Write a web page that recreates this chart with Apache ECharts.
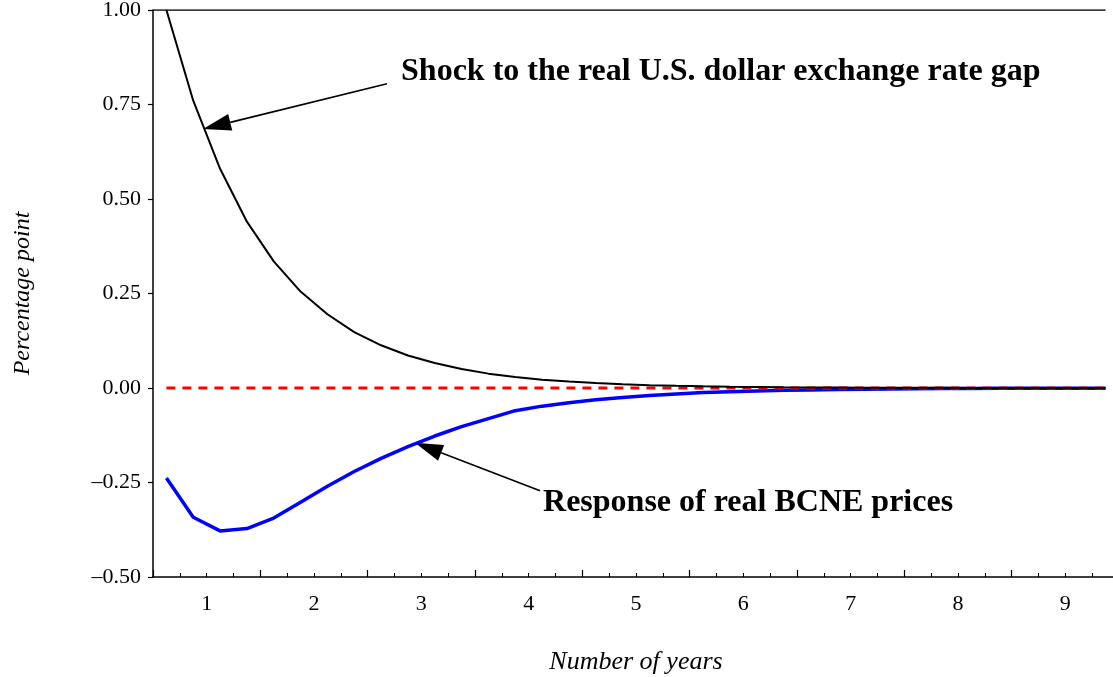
<!DOCTYPE html>
<html>
<head>
<meta charset="utf-8">
<script src="https://cdn.jsdelivr.net/npm/echarts@6/dist/echarts.min.js"></script>
<style>
  html, body { margin: 0; padding: 0; background: #fff; }
  #chart { width: 1113px; height: 677px; }
</style>
</head>
<body>
<div id="chart"></div>
<script>
// Quarterly horizon, in years
const years = [0.625, 0.875, 1.125, 1.375, 1.625, 1.875, 2.125, 2.375, 2.625, 2.875,
               3.125, 3.375, 3.625, 3.875, 4.125, 4.375, 4.625, 4.875, 5.125, 5.375,
               5.625, 5.875, 6.125, 6.375, 6.625, 6.875, 7.125, 7.375, 7.625, 7.875,
               8.125, 8.375, 8.625, 8.875, 9.125, 9.375];

// Shock to the real U.S. dollar exchange rate gap (percentage points)
const shockGap = [1.00, 0.76, 0.58, 0.44, 0.335, 0.255, 0.195, 0.148, 0.113, 0.086,
                  0.066, 0.050, 0.038, 0.029, 0.022, 0.017, 0.013, 0.010, 0.0075, 0.0057,
                  0.0043, 0.0033, 0.0025, 0.0019, 0.0015, 0.0011, 0.0008, 0.0006, 0.0005, 0.0004,
                  0.0003, 0.0002, 0.0002, 0.0001, 0.0001, 0.0001];

// Response of real BCNE prices (percentage points)
const bcneResponse = [-0.238, -0.342, -0.378, -0.372, -0.344, -0.302, -0.260, -0.221, -0.186, -0.155,
                      -0.127, -0.102, -0.081, -0.060, -0.048, -0.039, -0.031, -0.025, -0.020, -0.016,
                      -0.012, -0.010, -0.008, -0.006, -0.005, -0.004, -0.003, -0.0024, -0.0019, -0.0015,
                      -0.0012, -0.0009, -0.0007, -0.0006, -0.0005, -0.0004];

// Zero reference line end points
const zeroLine = [[0.625, 0], [9.375, 0]];
// Upper frame edge
const frameTop = [[0.5, 1.0], [9.375, 1.0]];

// Annotation texts: [x, y, text]
const notes = [
  [2.811, 0.836, 'Shock to the real U.S. dollar exchange rate gap'],
  [4.134, -0.304, 'Response of real BCNE prices']
];
// Annotation arrows: [tailX, tailY, tipX, tipY]
const arrows = [
  [2.680, 0.805, 0.966, 0.685],
  [4.106, -0.272, 2.941, -0.145]
];

const xMin = 0.5, xMax = 9.5;
const serif = '"Liberation Serif", "Times New Roman", serif';

const pair = (xs, ys) => xs.map((x, i) => [x, ys[i]]);

// Arrow: straight shaft with a filled triangular head whose tip sits on the target point
function renderArrow(params, api) {
  const p0 = api.coord([api.value(0), api.value(1)]);
  const p1 = api.coord([api.value(2), api.value(3)]);
  const dx = p1[0] - p0[0], dy = p1[1] - p0[1];
  const len = Math.sqrt(dx * dx + dy * dy);
  const ux = dx / len, uy = dy / len;
  const headLen = 28, headHalf = 8.5;
  const bx = p1[0] - ux * headLen, by = p1[1] - uy * headLen;
  return {
    type: 'group',
    children: [
      {
        type: 'line',
        shape: { x1: p0[0], y1: p0[1], x2: bx, y2: by },
        style: { stroke: '#000', lineWidth: 1.6 }
      },
      {
        type: 'polygon',
        shape: { points: [
          [p1[0], p1[1]],
          [bx - uy * headHalf, by + ux * headHalf],
          [bx + uy * headHalf, by - ux * headHalf]
        ] },
        style: { fill: '#000' }
      }
    ]
  };
}

function renderNote(params, api) {
  const p = api.coord([api.value(0), api.value(1)]);
  return {
    type: 'text',
    x: p[0], y: p[1],
    style: {
      text: notes[params.dataIndex][2],
      fill: '#000',
      font: 'bold 32px ' + serif,
      align: 'left',
      verticalAlign: 'middle'
    }
  };
}

const chart = echarts.init(document.getElementById('chart'), null, { renderer: 'canvas' });

chart.setOption({
  animation: false,
  backgroundColor: '#fff',
  grid: { left: 153, top: 10, width: 966, height: 567, containLabel: false, outerBoundsMode: 'none' },
  xAxis: [
    {
      // axis line with tall ticks on the half years and quarter minor ticks
      type: 'value', min: xMin, max: xMax, interval: 1, position: 'bottom',
      axisLine: { show: true, onZero: false, lineStyle: { color: '#000', width: 1.5 } },
      axisTick: { show: true, inside: true, length: 7, lineStyle: { color: '#000', width: 1.2 } },
      minorTick: { show: true, splitNumber: 4, length: 4, lineStyle: { color: '#000', width: 1 } },
      axisLabel: { show: false },
      splitLine: { show: false },
      minorSplitLine: { show: false },
      name: 'Number of years', nameLocation: 'middle', nameGap: 72,
      nameTextStyle: { fontFamily: serif, fontStyle: 'italic', fontSize: 26, color: '#000' }
    },
    {
      // year labels
      type: 'value', min: xMin, max: xMax, interval: 0.25, position: 'bottom',
      axisLine: { show: false }, axisTick: { show: false }, splitLine: { show: false },
      axisLabel: {
        show: true, margin: 16, color: '#000', fontFamily: serif, fontSize: 22,
        formatter: v => (Math.abs(v - Math.round(v)) < 1e-9 ? String(Math.round(v)) : '')
      }
    }
  ],
  yAxis: {
    type: 'value', min: -0.5, max: 1.0, interval: 0.25,
    axisLine: { show: true, onZero: false, lineStyle: { color: '#000', width: 1.5 } },
    axisTick: { show: true, inside: false, length: 5, lineStyle: { color: '#000', width: 1.2 } },
    splitLine: { show: false },
    axisLabel: {
      margin: 12, color: '#000', fontFamily: serif, fontSize: 22,
      formatter: v => (v < 0 ? '\u2013' + Math.abs(v).toFixed(2) : v.toFixed(2))
    },
    name: 'Percentage point', nameLocation: 'middle', nameGap: 118, nameRotate: 90,
    nameTextStyle: { fontFamily: serif, fontStyle: 'italic', fontSize: 24, color: '#000' }
  },
  series: [
    {
      name: 'frame', type: 'line', data: frameTop, symbol: 'none', silent: true,
      lineStyle: { color: '#000', width: 1.5 }
    },
    {
      name: 'Response of real BCNE prices', type: 'line', data: pair(years, bcneResponse),
      symbol: 'none', lineStyle: { color: '#0000ff', width: 3.5 }, z: 3
    },
    {
      name: 'zero', type: 'line', data: zeroLine, symbol: 'none',
      lineStyle: { color: '#ff0000', width: 3, type: [9, 7] }, z: 4
    },
    {
      name: 'Shock to the real U.S. dollar exchange rate gap', type: 'line',
      data: pair(years, shockGap), symbol: 'none',
      lineStyle: { color: '#000', width: 2 }, z: 5
    },
    {
      name: 'arrows', type: 'custom', data: arrows, renderItem: renderArrow,
      clip: false, silent: true, z: 6,
      encode: { x: [0, 2], y: [1, 3] }
    },
    {
      name: 'notes', type: 'custom', data: notes.map(n => [n[0], n[1]]), renderItem: renderNote,
      clip: false, silent: true, z: 6,
      encode: { x: 0, y: 1 }
    }
  ]
});
</script>
</body>
</html>
